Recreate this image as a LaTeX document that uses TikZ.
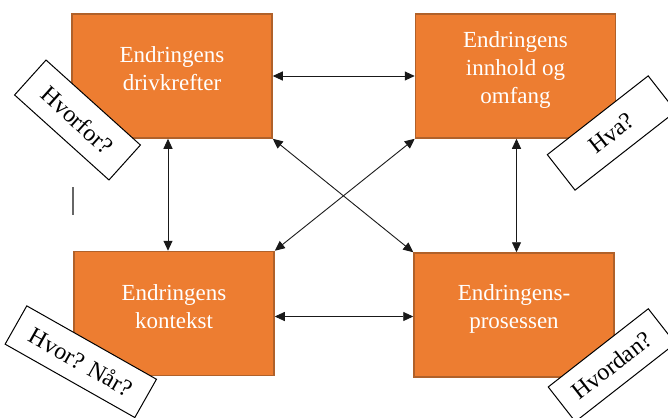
\documentclass[tikz,border=0pt]{standalone}
\usepackage{fontspec}
\setmainfont{Liberation Serif}
\usetikzlibrary{arrows.meta,calc}

\definecolor{boxfill}{HTML}{ED7D31}
\definecolor{boxline}{HTML}{B0612A}

\tikzset{
  mainbox/.style={draw=boxline, line width=1.5pt, fill=boxfill,
    minimum width=200pt, minimum height=124pt, inner sep=0pt},
  boxtext/.style={text=white, align=center, inner sep=0pt,
    font=\fontsize{23}{28}\selectfont},
  qbox/.style={draw=black, line width=1pt, fill=white, inner sep=0pt,
    align=center, font=\fontsize{24}{28}\selectfont},
  biarrow/.style={draw=black!90, line width=0.9pt,
    {Triangle[length=10pt,width=9pt]}-{Triangle[length=10pt,width=9pt]}},
}

\begin{document}
\begin{tikzpicture}[x=1pt,y=-1pt]
  \useasboundingbox (0,0) rectangle (668,417);

  % the four areas of change
  \node[mainbox] (drv) at (172,76) {};
  \node[boxtext] (drvt) at ([yshift=7pt]drv.center) {Endringens\\drivkrefter};

  \node[mainbox] (inh) at (515.5,76) {};
  \node[boxtext] (inht) at ([yshift=6pt]inh.center) {Endringens\\innhold og\\omfang};

  \node[mainbox] (kon) at (174,313.5) {};
  \node[boxtext] (kont) at ([yshift=7pt]kon.center) {Endringens\\kontekst};

  \node[mainbox] (pro) at (514,315) {};
  \node[boxtext] (prot) at ([yshift=6pt]pro.center) {Endringens-\\prosessen};

  % links between the areas
  \draw[biarrow] (drv.east) -- (inh.west);
  \draw[biarrow] ([yshift=-3pt]kon.east) -- ([yshift=-3pt]kon.east -| pro.west);
  \draw[biarrow] ([xshift=-4pt]drv.south) -- ([xshift=-4pt]drv.south |- kon.north);
  \draw[biarrow] ([xshift=1pt]inh.south) -- ([xshift=1pt]inh.south |- pro.north);
  \draw[biarrow] (drv.south east) -- (pro.north west);
  \draw[biarrow] (inh.south west) -- (kon.north east);

  % short stray mark
  \coordinate (m1) at (73,187);
  \coordinate (m2) at (73,215);
  \draw[black!60, line width=1.3pt] (m1) -- (m2);

  % question tags
  \node[qbox, rotate=-42, minimum width=127pt, minimum height=47pt] (q1)
    at (77.5,120) {Hvorfor?};
  \node[qbox, rotate=38, minimum width=128pt, minimum height=45pt] (q2)
    at (611.6,133) {Hva?};
  \node[qbox, rotate=-29.5, minimum width=149pt, minimum height=44pt] (q3)
    at (80.8,361.7) {Hvor? Når?};
  \node[qbox, rotate=38, minimum width=127pt, minimum height=44pt] (q4)
    at (611.8,365.2) {Hvordan?};
\end{tikzpicture}
\end{document}
